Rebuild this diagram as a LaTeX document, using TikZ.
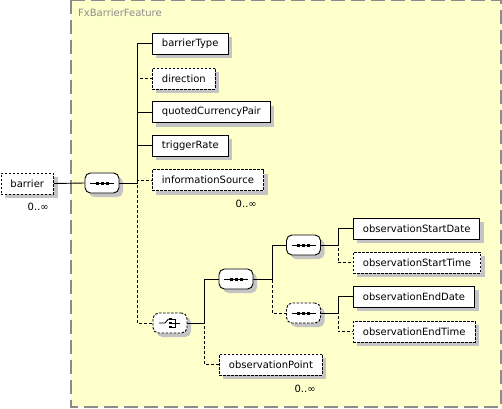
\documentclass[tikz,border=0pt]{standalone}
\usepackage{fontspec}
\setmainfont{DejaVu Sans}
\usepackage{tikz}
\usetikzlibrary{shadows,positioning}

\definecolor{groupfill}{HTML}{FFFFCC}
\definecolor{groupline}{HTML}{8C8C8C}
\definecolor{shadowgray}{HTML}{C4C4C4}

% glyphs drawn inside the compositor boxes
\newcommand{\seqglyph}{%
  \draw[solid, black, sharp corners, line width=0.9pt] ([xshift=-12pt]path picture bounding box.center) -- ([xshift=12pt]path picture bounding box.center);
  \foreach \dx in {-5pt,0pt,5pt}
    \fill[black, sharp corners] ([xshift=\dx]path picture bounding box.center) +(-1.5pt,-1.5pt) rectangle +(1.5pt,1.5pt);
}
\newcommand{\choiceglyph}{%
  \begin{scope}[shift={(path picture bounding box.center)}, solid, black, sharp corners, line width=0.9pt]
    \draw (-11pt,0pt) -- (-5pt,0pt) -- (-1.5pt,4pt);
    \foreach \dy in {-4pt,0pt,4pt}
      \fill[black] (0.3pt,\dy) +(-1.4pt,-1.4pt) rectangle +(1.4pt,1.4pt);
    \draw (1.5pt,4pt) -- (5.5pt,4pt) -- (5.5pt,-4pt) -- (1.5pt,-4pt);
    \draw (1.5pt,0pt) -- (9.5pt,0pt);
  \end{scope}}

\begin{document}
\begin{tikzpicture}[
    x=1pt, y=-1pt,
    elem/.style={rectangle, draw, fill=white, line width=0.9pt, anchor=west,
      minimum height=21pt, inner xsep=9.5pt, inner ysep=0pt,
      font=\fontsize{10}{12}\selectfont,
      general shadow={fill=shadowgray, shadow xshift=4pt, shadow yshift=-4pt}},
    optelem/.style={elem, dash pattern=on 2.5pt off 1.5pt},
    model/.style={rectangle, rounded corners=5.5pt,
      draw, fill=white, line width=0.9pt, minimum width=34pt, minimum height=20pt,
      inner sep=0pt,
      general shadow={fill=shadowgray, shadow xshift=4pt, shadow yshift=-4pt}},
    seqbox/.style={model, path picture={\seqglyph}},
    optseqbox/.style={seqbox, dash pattern=on 2.5pt off 1.5pt},
    choicebox/.style={model, dash pattern=on 2.5pt off 1.5pt, path picture={\choiceglyph}},
    link/.style={draw, line width=0.9pt},
    optlink/.style={link, dash pattern=on 3pt off 2pt},
    card/.style={anchor=east, inner sep=0pt, font=\fontsize{10}{12}\selectfont},
    grouplabel/.style={anchor=west, inner sep=0pt, text=groupline, font=\fontsize{10}{12}\selectfont}
]
\useasboundingbox (0,0) rectangle (502,408);

% complex type area
\draw[groupline, fill=groupfill, line width=1.5pt, dash pattern=on 14pt off 6pt] (71,0) rectangle (501,407);
\node[grouplabel] (groupName) at (78,13) {FxBarrierFeature};

% Nodes
\node[optelem] (barrier) at (0.5,183.5) {barrier};
\node[card] (barrierCard) at ([xshift=-5pt, yshift=-12pt]barrier.south east) {0..∞};
\node[seqbox] (seqMain) at (102,183) {};

\node[elem] (barrierType) at (152,43.5) {barrierType};
\node[optelem] (direction) at (152,78.5) {direction};
\node[elem] (quotedCurrencyPair) at (152,112) {quotedCurrencyPair};
\node[elem] (triggerRate) at (152,145.5) {triggerRate};
\node[optelem] (informationSource) at (152,180) {informationSource};
\node[card] (infoCard) at ([xshift=-7pt, yshift=-13pt]informationSource.south east) {0..∞};

\node[choicebox] (obsChoice) at (170,323) {};
\node[seqbox] (seqPeriod) at (236,279) {};
\node[optelem] (observationPoint) at (219,364.5) {observationPoint};
\node[card] (pointCard) at ([xshift=-7pt, yshift=-13pt]observationPoint.south east) {0..∞};

\node[seqbox] (seqStart) at (303.5,245) {};
\node[optseqbox] (seqEnd) at (303.5,313) {};
\node[elem] (observationStartDate) at (353,228.5) {observationStartDate};
\node[optelem] (observationStartTime) at (353,262.5) {observationStartTime};
\node[elem] (observationEndDate) at (353,296.5) {observationEndDate};
\node[optelem] (observationEndTime) at (353,331.5) {observationEndTime};

% Edges (optional ones first)
\draw[link] (barrier.east) -- (seqMain.west);
\draw[optlink] (seqMain.east) -- ++(18,0) |- (direction.west);
\draw[optlink] (seqMain.east) -- ++(18,0) |- (informationSource.west);
\draw[optlink] (seqMain.east) -- ++(18,0) |- (obsChoice.west);
\draw[link] (seqMain.east) -- ++(18,0) |- (barrierType.west);
\draw[link] (seqMain.east) -- ++(18,0) |- (quotedCurrencyPair.west);
\draw[link] (seqMain.east) -- ++(18,0) |- (triggerRate.west);

\draw[optlink] (obsChoice.east) -- ++(17,0) |- (observationPoint.west);
\draw[link] (obsChoice.east) -- ++(17,0) |- (seqPeriod.west);

\draw[optlink] (seqPeriod.east) -- ++(19,0) |- (seqEnd.west);
\draw[link] (seqPeriod.east) -- ++(19,0) |- (seqStart.west);

\draw[optlink] (seqStart.east) -- ++(17,0) |- (observationStartTime.west);
\draw[link] (seqStart.east) -- ++(17,0) |- (observationStartDate.west);
\draw[optlink] (seqEnd.east) -- ++(17,0) |- (observationEndTime.west);
\draw[link] (seqEnd.east) -- ++(17,0) |- (observationEndDate.west);

\end{tikzpicture}
\end{document}
